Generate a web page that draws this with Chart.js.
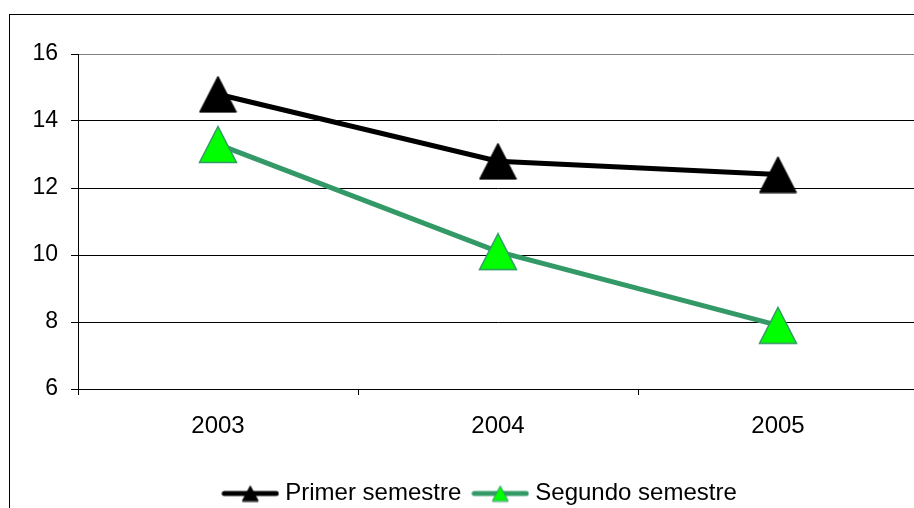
<!DOCTYPE html>
<html>
<head>
<meta charset="utf-8">
<script src="https://cdn.jsdelivr.net/npm/chart.js@4"></script>
<style>
  html, body { margin: 0; padding: 0; background: #fff; overflow: hidden; }
  #frame { position: absolute; left: 9px; top: 14px; width: 978px; height: 518px; border: 1px solid #000; }
  #wrap { position: relative; width: 978px; height: 518px; }
</style>
</head>
<body>
<div id="frame"><div id="wrap"><canvas id="chart"></canvas></div></div>
<script>
const years = ["2003", "2004", "2005"];
const primerSemestre = [14.8, 12.8, 12.4];
const segundoSemestre = [13.3, 10.1, 7.9];
const yTicks = [6, 8, 10, 12, 14, 16];

// triangle marker with its box centred on the point, like the original
function triangle(fill, stroke, w, h, lw) {
  let c = document.createElement("canvas");
  c.width = w + lw * 2;
  c.height = h + lw * 2;
  let g = c.getContext("2d");
  g.beginPath();
  g.moveTo(c.width / 2, lw);
  g.lineTo(c.width - lw, c.height - lw);
  g.lineTo(lw, c.height - lw);
  g.closePath();
  g.fillStyle = fill;
  g.fill();
  g.lineWidth = lw;
  g.strokeStyle = stroke;
  g.stroke();
  return c;
}

function legendIcon(lineColor, fill, stroke) {
  let c = document.createElement("canvas");
  c.width = 58;
  c.height = 20;
  let g = c.getContext("2d");
  g.strokeStyle = lineColor;
  g.lineWidth = 5;
  g.lineCap = "round";
  g.beginPath();
  g.moveTo(3, 10);
  g.lineTo(55, 10);
  g.stroke();
  g.drawImage(triangle(fill, stroke, 16, 15, 1), 29 - 9, 10 - 8.5);
  return c;
}

const blackMark = triangle("#000000", "#000000", 37, 36, 1);
const greenMark = triangle("#00ff00", "#339966", 37, 36, 1.5);

// put the legend where the original has it (a bit left of the plot centre)
const legendPlace = {
  id: "legendPlace",
  beforeDraw(chart) {
    chart.legend.left = chart.chartArea.left - 16;
    chart.legend.right = chart.chartArea.right - 16;
  }
};

const font = "'Liberation Sans', Arial, sans-serif";

new Chart(document.getElementById("chart"), {
  type: "line",
  data: {
    labels: years,
    datasets: [
      {
        label: "Primer semestre",
        data: primerSemestre,
        borderColor: "#000000",
        borderWidth: 5,
        pointStyle: blackMark,
        pointRadius: 10,
        tension: 0,
      },
      {
        label: "Segundo semestre",
        data: segundoSemestre,
        borderColor: "#339966",
        borderWidth: 5,
        pointStyle: greenMark,
        pointRadius: 10,
        tension: 0,
      },
    ],
  },
  options: {
    responsive: true,
    maintainAspectRatio: false,
    animation: false,
    events: [],
    layout: { padding: { top: 39, right: 70, left: 0, bottom: 17.5 } },
    scales: {
      x: {
        offset: true,
        grid: { offset: true, drawOnChartArea: false, drawTicks: true, tickLength: 6, color: "#000" },
        border: { color: "#000", width: 1 },
        ticks: { color: "#000", font: { family: font, size: 24 }, padding: 17 },
        afterFit(scale) { scale.height = 76.5; },
      },
      y: {
        min: 6,
        max: 16,
        afterBuildTicks(scale) { scale.ticks = yTicks.map(v => ({ value: v })); },
        grid: {
          color: ctx => (ctx.tick && ctx.tick.value === 16 ? "#808080" : "#000"),
          tickColor: "#000",
          tickLength: 7,
          lineWidth: 1,
        },
        border: { color: "#000", width: 1 },
        ticks: { color: "#000", font: { family: font, size: 23 }, padding: 13 },
        afterFit(scale) { scale.width = 68; },
      },
    },
    plugins: {
      legend: {
        position: "bottom",
        labels: {
          usePointStyle: true,
          pointStyleWidth: 46,
          padding: 16,
          color: "#000",
          font: { family: font, size: 24 },
          generateLabels(chart) {
            return [
              { text: "Primer semestre", pointStyle: legendIcon("#000", "#000", "#000"), datasetIndex: 0, lineWidth: 0, strokeStyle: "transparent", fillStyle: "transparent", fontColor: "#000" },
              { text: "Segundo semestre", pointStyle: legendIcon("#339966", "#00ff00", "#339966"), datasetIndex: 1, lineWidth: 0, strokeStyle: "transparent", fillStyle: "transparent", fontColor: "#000" },
            ];
          },
        },
      },
      tooltip: { enabled: false },
    },
  },
  plugins: [legendPlace],
});
</script>
</body>
</html>
